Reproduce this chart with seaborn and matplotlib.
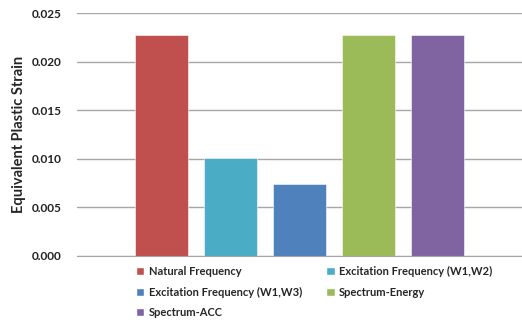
import pandas as pd
import seaborn as sns
import matplotlib.pyplot as plt
from matplotlib.patches import Patch

# ----- Data -----
series = ['Natural Frequency', 'Excitation Frequency (W1,W2)',
          'Excitation Frequency (W1,W3)', 'Spectrum-Energy', 'Spectrum-ACC']
strain = [0.02272, 0.01005, 0.00740, 0.02272, 0.02272]
colors = ['#C0504D', '#4BACC6', '#4F81BD', '#9BBB59', '#8064A2']

df = pd.DataFrame({'Series': series, 'Strain': strain})

# ----- Style -----
sns.set_style('white')
plt.rcParams['font.family'] = ['Lato', 'DejaVu Sans']

fig = plt.figure(figsize=(5.22, 3.2), dpi=100)
ax = fig.add_axes([77 / 522, 64 / 320, 445 / 522, 243 / 320])

sns.barplot(data=df, x='Series', y='Strain', hue='Series', palette=colors,
            width=0.78, legend=False, ax=ax, saturation=1,
            edgecolor='white', linewidth=0.4)

ax.set_xlim(-1.225, 5.225)
ax.set_ylim(0, 0.025)
ax.set_yticks([0, 0.005, 0.010, 0.015, 0.020, 0.025])
ax.set_yticklabels([f'{v:.3f}' for v in ax.get_yticks()],
                   fontsize=8.5, fontweight='bold', color='#222222')
ax.set_xticks([])
ax.set_xlabel('')
ax.set_ylabel('Equivalent Plastic Strain', fontsize=10.5, fontweight='bold')
ax.yaxis.set_label_coords(-0.115, 0.5)
ax.tick_params(axis='y', length=0, pad=11)
ax.yaxis.grid(True, color='#A6A6A6', linewidth=1.0)
ax.set_axisbelow(True)
for side in ['left', 'right', 'top']:
    ax.spines[side].set_visible(False)
ax.spines['bottom'].set_color('#A6A6A6')

# ----- Legend (row order as in reference) -----
order = [0, 2, 4, 1, 3]
handles = [Patch(facecolor=colors[i], label=series[i]) for i in order]
fig.legend(handles=handles, loc='upper left', bbox_to_anchor=(0.252, 0.182),
           ncol=2, frameon=False, handlelength=0.75, handleheight=0.75,
           handletextpad=0.4, columnspacing=2.2, labelspacing=0.85,
           prop={'size': 8, 'weight': 'bold'}, borderaxespad=0)

fig.savefig('out.png', dpi=100)
